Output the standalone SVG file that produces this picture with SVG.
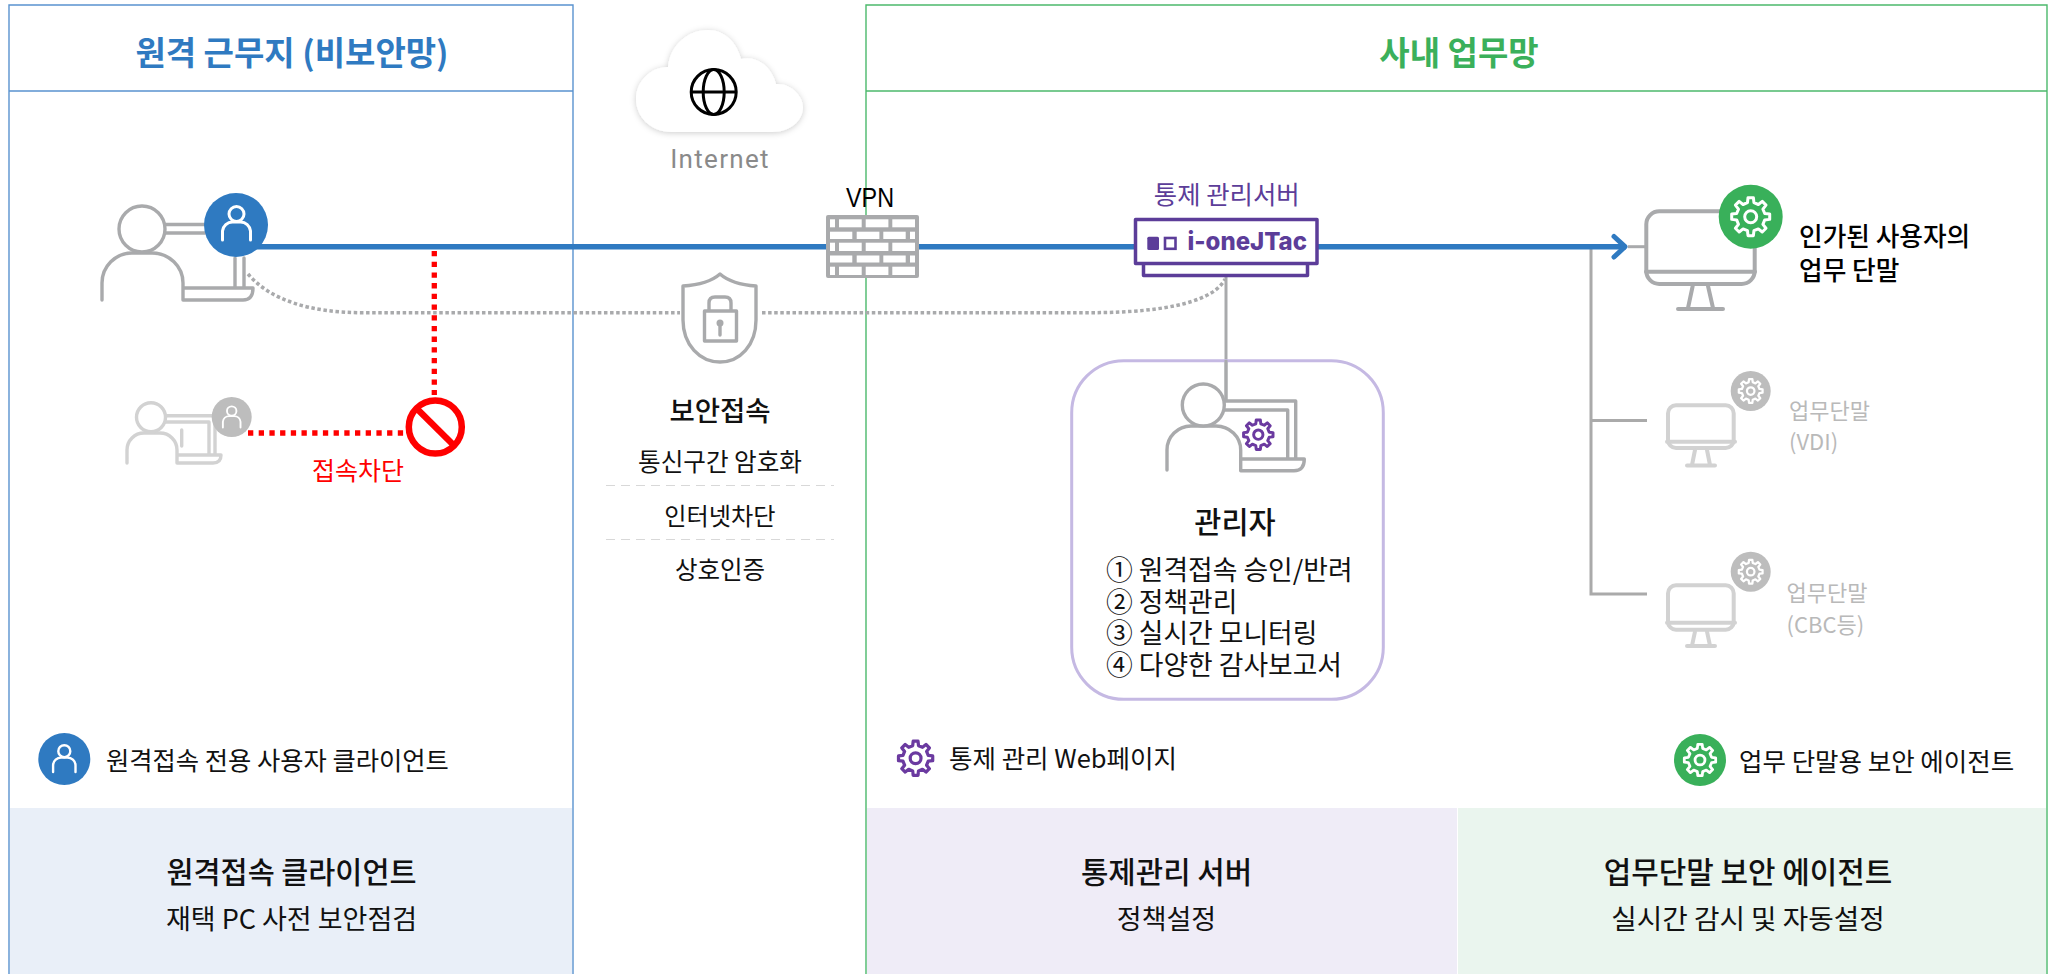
<svg xmlns="http://www.w3.org/2000/svg" width="2055" height="974" viewBox="0 0 2055 974">
<style>
text{font-family:"Noto Sans CJK KR","Noto Sans",sans-serif;fill:#111}
.m{text-anchor:middle}
.b{font-weight:500}
.ic{fill:none;stroke:#a9aaac;stroke-width:3.4;stroke-linecap:round;stroke-linejoin:round}
.lt{fill:none;stroke:#d2d2d2;stroke-width:3.4;stroke-linecap:round;stroke-linejoin:round}
.mon{fill:#fff;stroke:#d2d2d2;stroke-width:4;stroke-linejoin:round;stroke-linecap:round}
.gr{fill:#b9b9b9}
.g{fill:none;stroke-linejoin:round}
.u{fill:none;stroke:#fff;stroke-width:3;stroke-linecap:round}
.brick{fill:#fff}
</style>
<defs>
<g id="gear"><path d="M-8.1-35.1-6.7-47.5 6.7-47.5 8.1-35.1 19.1-30.5 28.9-38.3 38.3-28.9 30.5-19.1 35.1-8.1 47.5-6.7 47.5 6.7 35.1 8.1 30.5 19.1 38.3 28.9 28.9 38.3 19.1 30.5 8.1 35.1 6.7 47.5-6.7 47.5-8.1 35.1-19.1 30.5-28.9 38.3-38.3 28.9-30.5 19.1-35.1 8.1-47.5 6.7-47.5-6.7-35.1-8.1-30.5-19.1-38.3-28.9-28.9-38.3-19.1-30.5Z"/><circle r="15"/></g>
<g id="user"><circle cx="0" cy="-11" r="7.5"/><path d="M-14 15V6A10 10 0 0 1-4-3H4A10 10 0 0 1 14 6V15"/></g>
<filter id="sh" x="-15%" y="-15%" width="130%" height="135%"><feDropShadow dx="0" dy="1" stdDeviation="3" flood-color="#000" flood-opacity=".2"/></filter>
</defs>

<g id="panel-left">
<rect x="10" y="808" width="562" height="166" fill="#e9eff8"/>
<path d="M9 974V5H573V974M9 91H573" fill="none" stroke="#5a93cf" stroke-width="1.4"/>
<text class="m" x="292" y="65" font-size="33" font-weight="700" style="fill:#2f7ac1">원격 근무지 (비보안망)</text>
<text class="m b" x="291.500" y="883" font-size="29.400">원격접속 클라이언트</text>
<text class="m" x="291.500" y="929" font-size="27">재택 PC 사전 보안점검</text>
</g>
<g id="panel-right">
<rect x="867" y="808" width="590" height="166" fill="#efecf7"/>
<rect x="1458" y="808" width="588" height="166" fill="#eaf5ee"/>
<path d="M866 974V5H2047V974M866 91H2047" fill="none" stroke="#4cb96c" stroke-width="1.4"/>
<text class="m" x="1459" y="65" font-size="33" font-weight="700" style="fill:#3bb05b">사내 업무망</text>
<text class="m b" x="1166.500" y="883" font-size="29.800">통제관리 서버</text>
<text class="m" x="1166.500" y="929" font-size="27">정책설정</text>
<text class="m b" x="1748" y="883" font-size="29.900">업무단말 보안 에이전트</text>
<text class="m" x="1748" y="929" font-size="27.700">실시간 감시 및 자동설정</text>
</g>

<g id="connectors" fill="none">
<path d="M248 274C270 300 310 312.700 363 312.700H680M762 312.700H1090C1170 312.700 1215 300 1225 279" stroke="#a9aaac" stroke-width="3.500" stroke-dasharray="3.500 2.600"/>
<path d="M1226 276V402" stroke="#a9aaac" stroke-width="3"/>
<path d="M1628 246.700H1646" stroke="#a9aaac" stroke-width="3"/>
<path d="M1591 247V594H1647M1591 420.500H1647" stroke="#aaa" stroke-width="3"/>
<path d="M250 246.700H1626" stroke="#2f7ac1" stroke-width="5.500"/>
<path d="M1614 236.500 1625 246.700 1614 257" stroke="#2f7ac1" stroke-width="5" stroke-linecap="round" stroke-linejoin="round"/>
<path d="M434.300 251V395M248 433H404" stroke="#f00" stroke-width="5.300" stroke-dasharray="5.300 5.400"/>
</g>

<g id="user-main">
<path class="ic" d="M102 300V283A30 30 0 0 1 132 253H152A31 30 0 0 1 183 283V300H243Q253 300 253 288H183M165 224.500H205M165 233H205M235 258V288M244 258V288"/>
<circle cx="142" cy="229" r="23" fill="#fff" stroke="#a9aaac" stroke-width="3.400"/>
<circle cx="236" cy="225" r="32" fill="#2f7ac1"/>
<use href="#user" class="u" transform="translate(236.500 225)"/>
</g>

<g id="user-blocked">
<path class="lt" d="M127 463V450A17 17 0 0 1 144 433H160A17 17 0 0 1 177 450V463H213Q221 463 221 455H177M165 415.700H212M165 422H209V455M215 416V455M181.700 430V446"/>
<circle cx="151" cy="417.300" r="14.500" fill="#fff" stroke="#d2d2d2" stroke-width="3.400"/>
<circle cx="231.700" cy="417" r="20" fill="#bdbdbd"/>
<use href="#user" class="u" transform="translate(231.700 418) scale(.63)"/>
</g>

<g id="block-sign">
<circle cx="435.300" cy="427" r="26.500" fill="#fff" stroke="#f00" stroke-width="6.500"/>
<path d="M416.700 408.500 454 445.500" stroke="#f00" stroke-width="6.500"/>
<text class="m" x="358" y="479.500" font-size="25" style="fill:#f00">접속차단</text>
</g>

<g id="internet">
<path filter="url(#sh)" fill="#fff" d="M672 132C650 132 636 116 636 99C636 82 650 67 668 67C670 46 687 30 708 30C725 30 737 43 741 59C757 55 772 67 776 84C792 83 803 97 803 107C803 121 790 132 772 132Z"/>
<g fill="none" stroke="#000" stroke-width="3"><circle cx="713.700" cy="92" r="22.500"/><ellipse cx="713.700" cy="92" rx="10.500" ry="22.500"/><path d="M691 92H736"/></g>
<text class="m" x="720" y="167.500" font-size="26" letter-spacing="1.300" style="fill:#8a8a8a;font-family:Roboto,sans-serif">Internet</text>
</g>

<g id="vpn">
<text class="m" x="870" y="206.500" font-size="28" textLength="48" lengthAdjust="spacingAndGlyphs" style="font-family:'Liberation Sans',sans-serif;fill:#000">VPN</text>
<rect x="826" y="215" width="93" height="63" rx="2" fill="#a9aaac"/>
<g class="brick">
<rect x="830" y="219.300" width="5" height="8"/><rect x="839" y="219.300" width="22.700" height="8"/><rect x="865.700" y="219.300" width="22.700" height="8"/><rect x="892.300" y="219.300" width="22.700" height="8"/>
<rect x="830" y="231.700" width="22.300" height="7.300"/><rect x="856.700" y="231.700" width="22.700" height="7.300"/><rect x="883.300" y="231.700" width="22.400" height="7.300"/><rect x="910" y="231.700" width="5" height="7.300"/>
<rect x="830" y="242.700" width="5" height="8.300"/><rect x="839" y="242.700" width="22.700" height="8.300"/><rect x="865.700" y="242.700" width="22.700" height="8.300"/><rect x="892.300" y="242.700" width="22.700" height="8.300"/>
<rect x="830" y="255.500" width="22.300" height="7"/><rect x="856.700" y="255.500" width="22.700" height="7"/><rect x="883.300" y="255.500" width="22.400" height="7"/><rect x="910" y="255.500" width="5" height="7"/>
<rect x="830" y="266.700" width="5" height="8.300"/><rect x="839" y="266.700" width="22.700" height="8.300"/><rect x="865.700" y="266.700" width="22.700" height="8.300"/><rect x="892.300" y="266.700" width="22.700" height="8.300"/>
</g>
</g>

<g id="secure">
<path class="ic" d="M720 274C712 281 700 285 683 286V320C683 345 700 362 720 362C740 362 756 345 756 320V286C740 285 728 281 720 274Z"/>
<path class="ic" d="M704.500 311H736.500V341H704.500ZM709 311V303Q709 297 715 297H725Q731 297 731 303V311M720 324V335"/>
<circle cx="720" cy="323" r="3.500" fill="#a9aaac"/>
<text class="m b" x="720" y="420.500" font-size="27.500">보안접속</text>
<text class="m" x="720" y="470.500" font-size="24.600">통신구간 암호화</text>
<path d="M606 485.500H834M606 539.500H834" stroke="#d8d8d8" stroke-width="1.200" stroke-dasharray="9 6"/>
<text class="m" x="720" y="525" font-size="24.200">인터넷차단</text>
<text class="m" x="720" y="579" font-size="24.500">상호인증</text>
</g>

<g id="server">
<text class="m" x="1226.700" y="204" font-size="25.400" style="fill:#5c3d99">통제 관리서버</text>
<rect x="1143.500" y="256" width="164" height="19.500" fill="#fff" stroke="#5c3d99" stroke-width="3.500" stroke-linejoin="round"/>
<rect x="1135.500" y="219.500" width="181.500" height="44" fill="#fff" stroke="#5c3d99" stroke-width="3.500" stroke-linejoin="round"/>
<rect x="1147.300" y="236.700" width="11.700" height="13.300" rx="1.500" fill="#5c3d99"/>
<rect x="1165" y="238" width="10.500" height="10.800" fill="none" stroke="#5c3d99" stroke-width="2.600"/>
<text x="1187.500" y="250" font-size="25" font-weight="800" textLength="119.500" lengthAdjust="spacingAndGlyphs" style="font-family:Inter,sans-serif;fill:#5c3d99">i-oneJTac</text>
</g>

<g id="admin">
<rect x="1071.700" y="360.700" width="311.600" height="338.600" rx="52" fill="none" stroke="#c5b9e3" stroke-width="3"/>
<path d="M1226 360V402" stroke="#a9aaac" stroke-width="3"/>
<path class="ic" d="M1167 470V450A24 24 0 0 1 1191 426H1216A24.700 24 0 0 1 1240.700 450V470.700H1294Q1304.300 470.700 1304.300 459H1240.700M1222 401H1295.700V459M1225 410H1287.700V459"/>
<circle cx="1203.300" cy="405" r="21" fill="#fff" stroke="#a9aaac" stroke-width="3.400"/>
<use href="#gear" class="g" stroke="#6b3aa0" stroke-width="9.500" transform="translate(1258.300 434.700) scale(.31)"/>
<text class="m b" x="1235" y="532.500" font-size="29.500">관리자</text>
<text font-size="26.800"><tspan x="1106" y="580">① 원격접속 승인/반려</tspan><tspan x="1106" y="611.700">② 정책관리</tspan><tspan x="1106" y="643.300">③ 실시간 모니터링</tspan><tspan x="1106" y="675.300">④ 다양한 감사보고서</tspan></text>
</g>

<g id="terminal-main">
<rect x="1646.300" y="211.300" width="108.400" height="72.700" rx="13" fill="#fff" stroke="#a9aaac" stroke-width="4"/>
<path d="M1646 271.700H1755M1692.700 286 1688 308M1708 286 1713 308M1678 309H1723" fill="none" stroke="#a9aaac" stroke-width="4" stroke-linecap="round"/>
<circle cx="1750.700" cy="216.700" r="32" fill="#39b05a"/>
<use href="#gear" class="g" stroke="#fff" stroke-width="7.500" transform="translate(1750.700 216.700) scale(.4)"/>
<text class="b" x="1799" y="246" font-size="25.700" style="fill:#000">인가된 사용자의</text>
<text class="b" x="1799" y="280" font-size="25.700" style="fill:#000">업무 단말</text>
</g>

<g id="terminal-vdi">
<rect x="1668" y="405.300" width="65.700" height="42.700" rx="8" class="mon"/>
<path class="mon" d="M1667 441.700H1735M1695 450 1692 465M1707 450 1710 465M1687 465.500H1715"/>
<circle cx="1750.700" cy="391" r="20" fill="#bdbdbd"/>
<use href="#gear" class="g" stroke="#fff" stroke-width="9" transform="translate(1750.700 391) scale(.25)"/>
<text class="gr" x="1789" y="419" font-size="22">업무단말</text>
<text class="gr" x="1789" y="449.500" font-size="22">(VDI)</text>
</g>

<g id="terminal-cbc">
<rect x="1668" y="585.300" width="65.700" height="44.400" rx="8" class="mon"/>
<path class="mon" d="M1667 622.700H1735M1695 631.700 1692 645.700M1707 631.700 1710 645.700M1687 646H1715"/>
<circle cx="1750.700" cy="571.700" r="20" fill="#bdbdbd"/>
<use href="#gear" class="g" stroke="#fff" stroke-width="9" transform="translate(1750.700 571.700) scale(.25)"/>
<text class="gr" x="1786.500" y="600.700" font-size="22">업무단말</text>
<text class="gr" x="1786.500" y="633" font-size="22">(CBC등)</text>
</g>

<g id="legend-client">
<circle cx="64.300" cy="759" r="26" fill="#2f7ac1"/>
<use href="#user" class="u" transform="translate(64.300 760) scale(.8)"/>
<text x="106" y="769.500" font-size="25.300">원격접속 전용 사용자 클라이언트</text>
</g>
<g id="legend-web">
<use href="#gear" class="g" stroke="#6b3aa0" stroke-width="9" transform="translate(915.600 758.300) scale(.36)"/>
<text x="949" y="767.500" font-size="25.500">통제 관리 Web페이지</text>
</g>
<g id="legend-agent">
<circle cx="1700" cy="760" r="26" fill="#39b05a"/>
<use href="#gear" class="g" stroke="#fff" stroke-width="8.500" transform="translate(1700 760) scale(.33)"/>
<text x="1739" y="770.500" font-size="25.500">업무 단말용 보안 에이전트</text>
</g>
</svg>
